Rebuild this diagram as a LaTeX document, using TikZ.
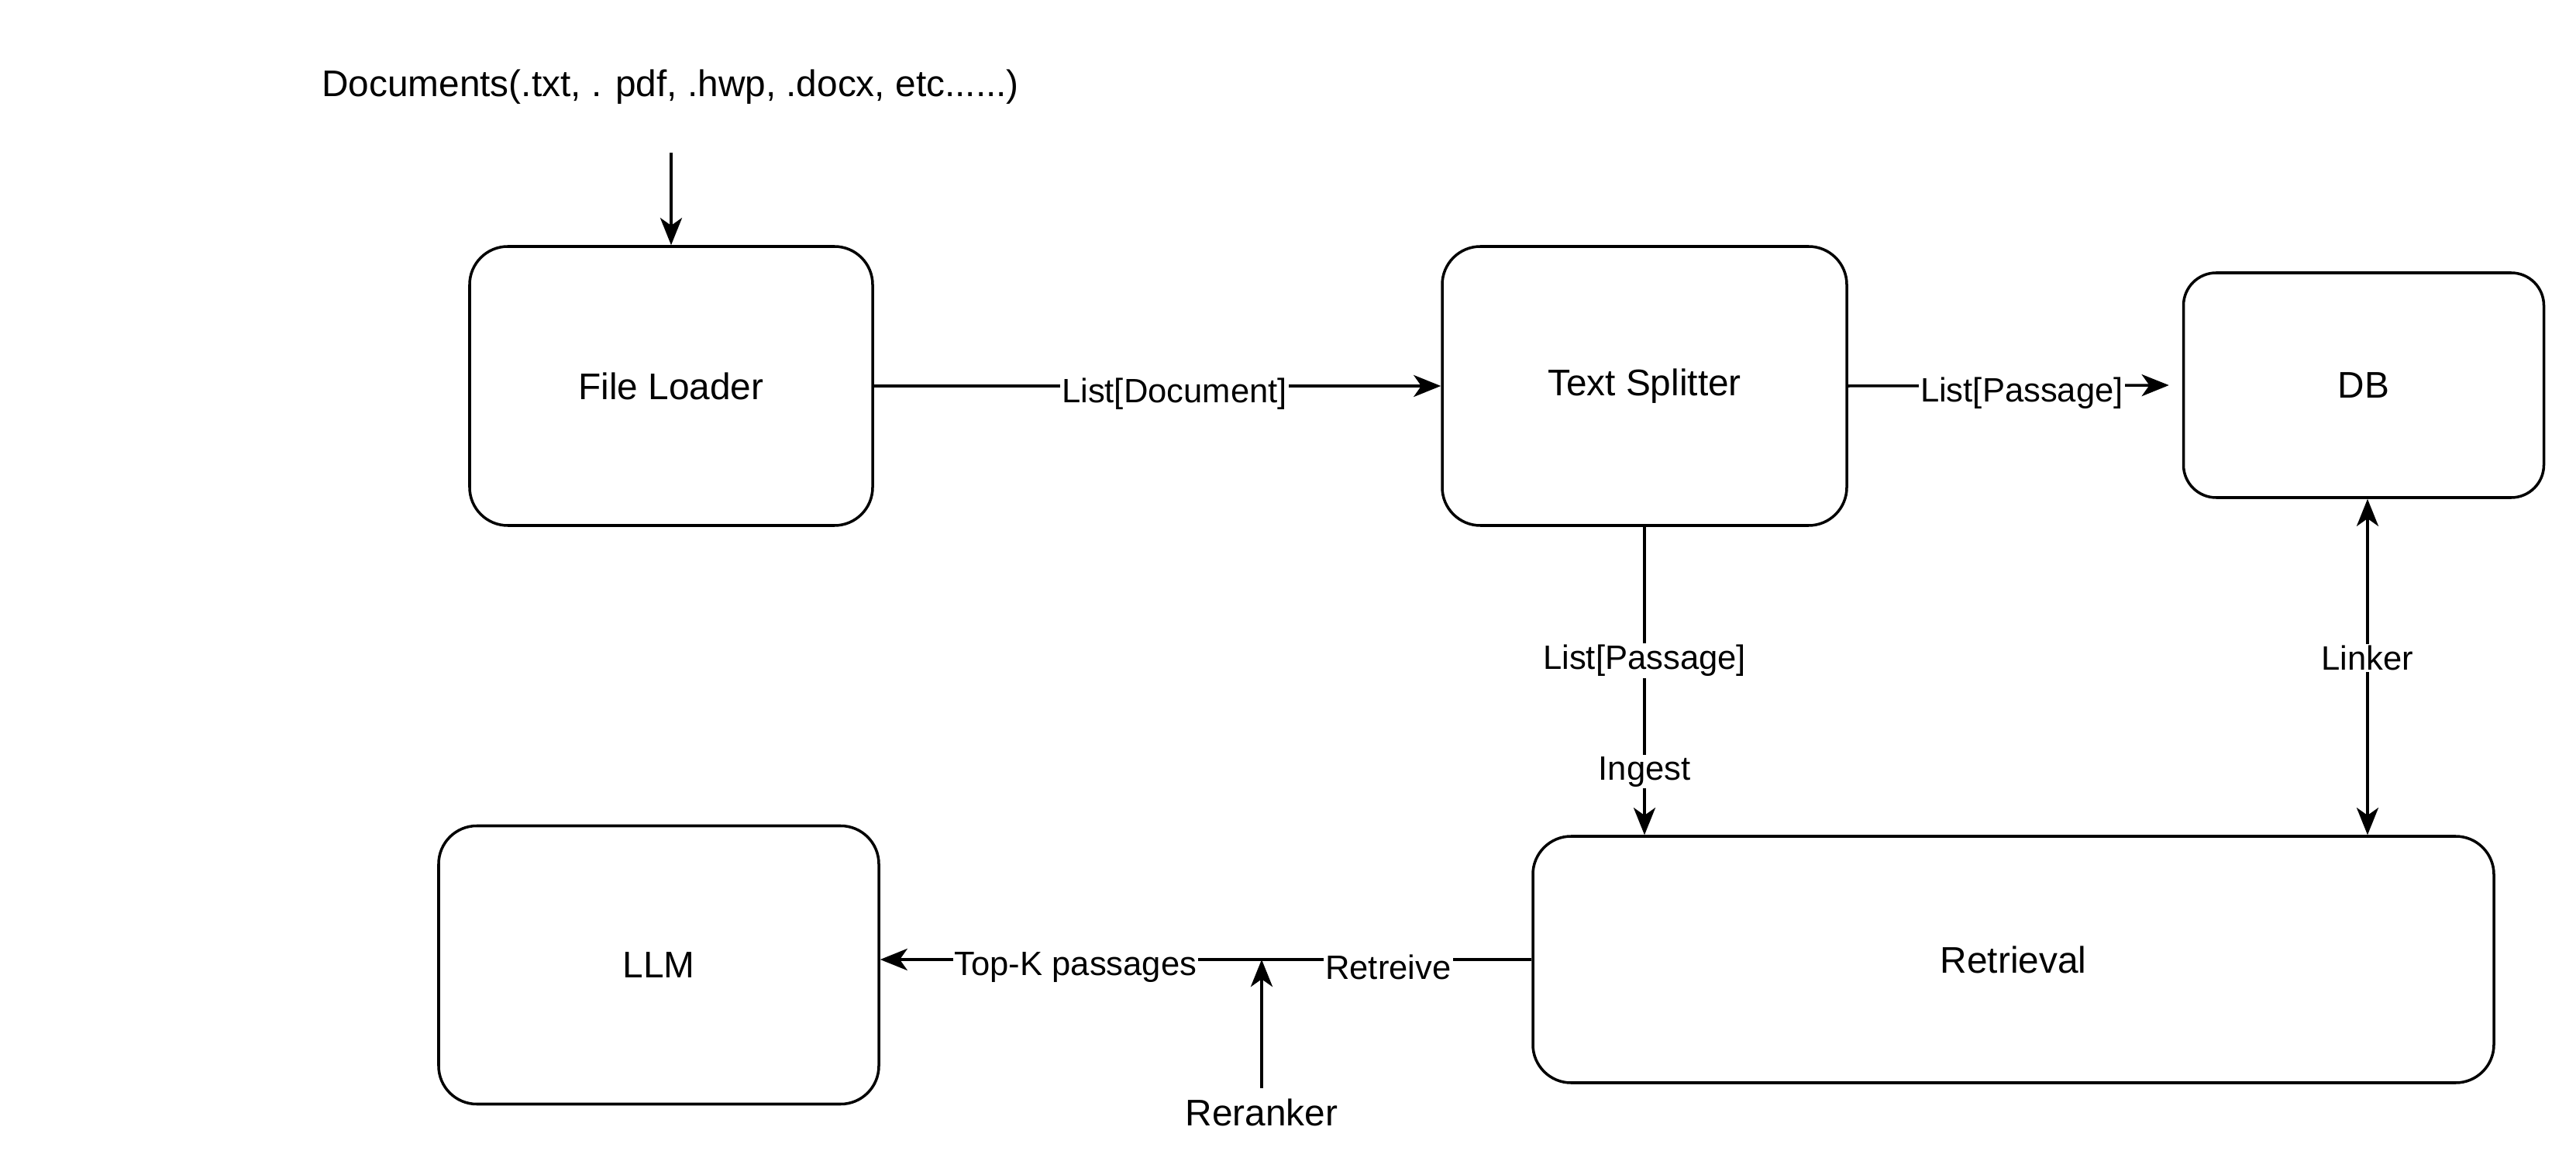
\documentclass[tikz,border=0pt]{standalone}
\usepackage{fontspec}
\setmainfont{Liberation Sans}
\usetikzlibrary{arrows.meta}

\begin{document}
\begin{tikzpicture}[
    line width=1pt,
    >={Stealth[length=10pt,width=8pt,inset=2.8pt]},
    font=\fontsize{13.6pt}{16pt}\selectfont,
    block/.style={draw,rounded corners=14pt,align=center,inner sep=0pt},
    lbl/.style={fill=white,inner sep=0.6pt,yshift=-0.1cm,font=\fontsize{12.4pt}{15pt}\selectfont}
  ]
                \useasboundingbox (0,0) rectangle (33.24,-15.16);
                \node (docs) at (8.65,-1.12) {Documents(.txt, . pdf, .hwp, .docx, etc......)};
                \coordinate (docsend) at (8.66,-1.97);
                \node[block,minimum width=5.2cm,minimum height=3.6cm] (loader) at (8.66,-4.98) {File Loader};
                \node[block,minimum width=5.22cm,minimum height=3.6cm] (splitter) at (21.22,-4.98) {Text Splitter};
                \node[block,rounded corners=12pt,minimum width=4.65cm,minimum height=2.9cm] (db) at (30.5,-4.97) {DB};
                \node[block,minimum width=5.68cm,minimum height=3.59cm] (llm) at (8.5,-12.45) {LLM};
                \node[block,minimum width=12.4cm,minimum height=3.18cm] (retrieval) at (25.98,-12.38) {Retrieval};
                \node (reranker) at (16.28,-14.35) {Reranker};

                \draw[->] (docsend) -- (loader.north);
                \draw[->] (loader.east) -- node[lbl,pos=0.53] {List[Document]} (splitter.west);
                \draw[->,shorten >=0.17cm] (splitter.east) -- node[lbl,pos=0.52] {List[Passage]} (db.west);
                \draw[->] (splitter.south) -- node[lbl,pos=0.41] {List[Passage]} node[lbl,pos=0.77] {Ingest} (splitter.south |- retrieval.north);
                \draw[<->] ([xshift=0.05cm]db.south) -- node[lbl,pos=0.45] {Linker} ([xshift=0.05cm]db.south |- retrieval.north);
                \draw[->] (retrieval.west) -- node[lbl,pos=0.22] {Retreive} node[lbl,pos=0.7] {Top-K passages} (retrieval.west -| llm.east);
                \draw[->] (reranker.north) -- (reranker.north |- retrieval.west);
\end{tikzpicture}
\end{document}
